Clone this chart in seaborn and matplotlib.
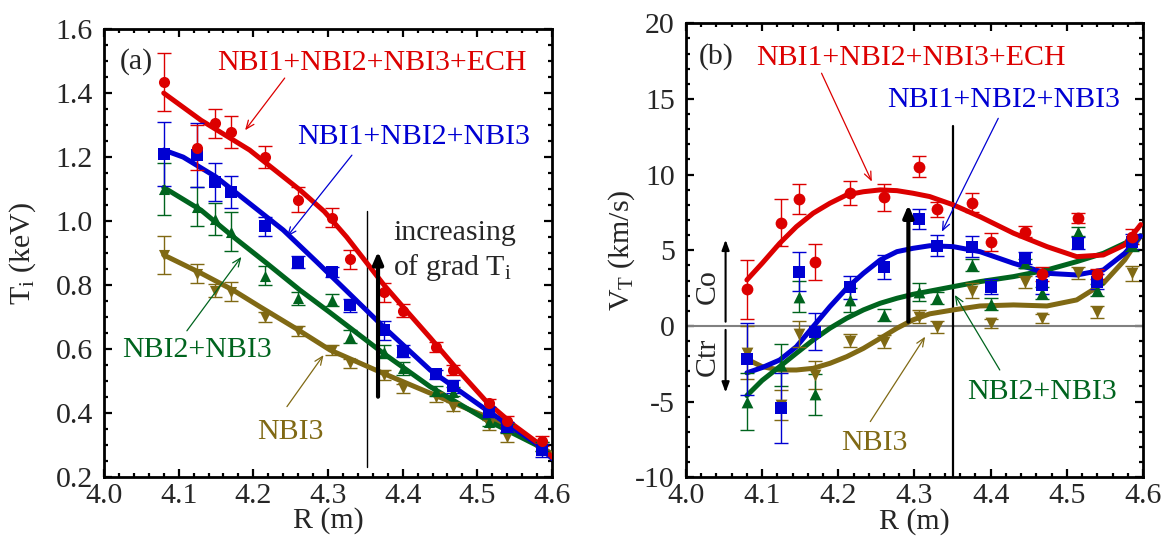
import numpy as np
import pandas as pd
import matplotlib
matplotlib.use('Agg')
import matplotlib.pyplot as plt
from matplotlib.ticker import MultipleLocator, FormatStrFormatter
import seaborn as sns

# measured radius points (same for every heating case)
R = [4.08, 4.125, 4.148, 4.17, 4.215, 4.26, 4.306, 4.33, 4.375, 4.40, 4.445, 4.468, 4.515, 4.54, 4.586]

# (a) ion temperature, keV
ti_ech = [1.434, 1.229, 1.305, 1.279, 1.201, 1.067, 1.010, 0.881, 0.777, 0.720, 0.607, 0.534, 0.430, 0.376, 0.312]
ti_ech_err = [0.09, 0.07, 0.045, 0.05, 0.035, 0.04, 0.03, 0.03, 0.03, 0.02, 0.015, 0.015, 0.015, 0.015, 0.015]
ti_123 = [1.209, 1.206, 1.123, 1.090, 0.984, 0.872, 0.840, 0.737, 0.659, 0.594, 0.521, 0.484, 0.404, 0.357, 0.284]
ti_123_err = [0.10, 0.10, 0.06, 0.05, 0.03, 0.02, 0.015, 0.02, 0.03, 0.02, 0.015, 0.02, 0.015, 0.015, 0.02]
ti_23 = [1.100, 1.045, 1.006, 0.967, 0.829, 0.758, 0.753, 0.638, 0.592, 0.540, 0.469, 0.467, 0.373, 0.352, 0.295]
ti_23_err = [0.08, 0.06, 0.05, 0.06, 0.03, 0.02, 0.02, 0.02, 0.02, 0.02, 0.015, 0.015, 0.015, 0.015, 0.015]
ti_3 = [0.894, 0.836, 0.782, 0.779, 0.701, 0.656, 0.597, 0.555, 0.519, 0.477, 0.451, 0.420, 0.362, 0.326, 0.295]
ti_3_err = [0.06, 0.03, 0.02, 0.03, 0.015, 0.015, 0.015, 0.015, 0.015, 0.015, 0.015, 0.015, 0.015, 0.015, 0.015]

# fitted Ti profiles
rfit_ti_ech = [4.08, 4.13, 4.195, 4.2625, 4.295, 4.325, 4.35, 4.375, 4.40, 4.437, 4.47, 4.5125, 4.55, 4.579, 4.60]
ti_ech_fit = [1.40, 1.315, 1.222, 1.097, 1.03, 0.95, 0.875, 0.80, 0.733, 0.635, 0.545, 0.435, 0.36, 0.31, 0.262]
rfit_ti_123 = [4.08, 4.106, 4.15, 4.195, 4.24, 4.285, 4.33, 4.374, 4.437, 4.5125, 4.579, 4.60]
ti_123_fit = [1.222, 1.20, 1.138, 1.055, 0.972, 0.872, 0.77, 0.67, 0.534, 0.409, 0.305, 0.258]
rfit_ti_23 = [4.08, 4.13, 4.173, 4.218, 4.2625, 4.3027, 4.374, 4.437, 4.5125, 4.579, 4.60]
ti_23_fit = [1.105, 1.034, 0.951, 0.868, 0.784, 0.714, 0.587, 0.482, 0.378, 0.300, 0.262]
rfit_ti_3 = [4.08, 4.13, 4.173, 4.209, 4.26, 4.3027, 4.374, 4.437, 4.5125, 4.579, 4.60]
ti_3_fit = [0.894, 0.837, 0.784, 0.732, 0.660, 0.597, 0.524, 0.462, 0.388, 0.305, 0.272]

# (b) toroidal rotation, km/s
vt_ech = [2.44, 6.83, 8.39, 4.21, 8.77, 8.50, 10.53, 7.71, 8.15, 5.57, 6.23, 3.44, 7.12, 3.44, 5.9]
vt_ech_err = [1.95, 1.57, 1.0, 1.2, 0.8, 0.9, 0.7, 0.5, 0.65, 0.6, 0.35, 0.45, 0.35, 0.35, 0.5]
vt_123 = [-2.2, -5.44, 3.59, -0.37, 2.56, 3.92, 7.07, 5.31, 5.24, 2.60, 4.47, 2.71, 5.50, 2.93, 5.57]
vt_123_err = [2.37, 2.3, 1.3, 1.2, 0.75, 0.8, 0.65, 0.72, 0.7, 0.5, 0.4, 0.6, 0.4, 0.5, 0.5]
vt_23 = [-5.0, -2.58, 1.94, -4.52, 1.72, 0.73, 2.27, 1.83, 4.03, 1.43, 4.14, 2.2, 6.23, 2.38, 5.35]
vt_23_err = [1.9, 1.4, 1.0, 1.35, 0.8, 0.4, 0.6, 0.4, 0.4, 0.4, 0.3, 0.4, 0.3, 0.4, 0.4]
vt_3 = [-1.76, -5.22, -0.53, -3.24, -0.97, -1.04, 0.62, -0.04, 2.33, 0.18, 2.93, 0.51, 3.48, 0.95, 3.48]
vt_3_err = [1.75, 1.0, 0.85, 0.9, 0.45, 0.45, 0.45, 0.4, 0.5, 0.3, 0.4, 0.3, 0.4, 0.4, 0.5]

# fitted VT profiles
rfit_vt = [4.08, 4.10, 4.123, 4.145, 4.167, 4.189, 4.211, 4.233, 4.255, 4.277, 4.298, 4.32,
           4.351, 4.386, 4.43, 4.474, 4.513, 4.548, 4.576, 4.597]
vt_ech_fit = [3.04, 4.14, 5.46, 6.56, 7.45, 8.11, 8.66, 8.87, 8.99, 8.94, 8.77, 8.55,
              8.0, 7.22, 6.13, 5.24, 4.58, 4.69, 5.35, 6.7]
vt_123_fit = [-3.1, -2.75, -2.25, -1.37, -0.04, 1.28, 2.49, 3.48, 4.36, 4.91, 5.13, 5.3,
              5.24, 4.91, 4.14, 3.48, 3.37, 3.70, 4.8, 5.95]
vt_23_fit = [-4.6, -3.6, -2.69, -1.80, -0.93, -0.15, 0.51, 1.06, 1.50, 1.83, 2.09, 2.3,
             2.60, 2.93, 3.26, 3.70, 4.25, 4.80, 5.46, 5.95]
vt_3_fit = [-2.2, -2.69, -2.91, -2.91, -2.80, -2.47, -2.03, -1.48, -0.82, -0.15, 0.40, 0.8,
            1.06, 1.32, 1.39, 1.32, 1.72, 2.82, 4.36, 5.95]

labels = ['NBI1+NBI2+NBI3+ECH', 'NBI1+NBI2+NBI3', 'NBI2+NBI3', 'NBI3']
colors = ['#dc0000', '#0000d2', '#00641e', '#806914']
markers = ['o', 's', '^', 'v']

sns.set_style('ticks')
plt.rcParams['font.family'] = ['Liberation Serif', 'DejaVu Serif']
plt.rcParams['mathtext.fontset'] = 'custom'
plt.rcParams['mathtext.rm'] = 'Liberation Serif'
plt.rcParams['mathtext.it'] = 'Liberation Serif:italic'
plt.rcParams['axes.unicode_minus'] = False
FS = 21.5

fig = plt.figure(figsize=(11.7, 5.39), dpi=100)
ax1 = fig.add_axes([0.0889, 0.115, 0.3829, 0.831])
ax2 = fig.add_axes([0.5863, 0.1145, 0.3906, 0.8423])


def draw_series(ax, xs, ys, errs, fx, fy, color, marker, ms):
    sns.lineplot(x=fx, y=fy, ax=ax, color=color, lw=3.6, sort=False, zorder=3)
    ax.errorbar(xs, ys, yerr=errs, fmt='none', ecolor=color, elinewidth=1.0,
                capsize=5, capthick=1.0, zorder=4)
    sns.scatterplot(x=xs, y=ys, ax=ax, color=color, marker=marker, s=ms,
                    edgecolor=color, linewidth=0, zorder=5)


ti_data = [(ti_ech, ti_ech_err, rfit_ti_ech, ti_ech_fit), (ti_123, ti_123_err, rfit_ti_123, ti_123_fit),
           (ti_23, ti_23_err, rfit_ti_23, ti_23_fit), (ti_3, ti_3_err, rfit_ti_3, ti_3_fit)]
for (y, e, fx, f), c, m in list(zip(ti_data, colors, markers))[::-1]:
    draw_series(ax1, R, y, e, fx, f, c, m, 64)

vt_data = [(vt_ech, vt_ech_err, vt_ech_fit), (vt_123, vt_123_err, vt_123_fit),
           (vt_23, vt_23_err, vt_23_fit), (vt_3, vt_3_err, vt_3_fit)]
ax2.axhline(0, color='#808080', lw=1.5, zorder=1)
for (y, e, f), c, m in list(zip(vt_data, colors, markers))[::-1]:
    draw_series(ax2, R, y, e, rfit_vt, f, c, m, 72)

# axes styling
for ax in (ax1, ax2):
    ax.set_xlim(4.0, 4.6)
    ax.xaxis.set_major_locator(MultipleLocator(0.1))
    ax.xaxis.set_minor_locator(MultipleLocator(0.02))
    ax.xaxis.set_major_formatter(FormatStrFormatter('%.1f'))
    ax.tick_params(which='both', direction='in', top=True, right=True, width=1.6,
                   labelsize=FS, color='black')
    ax.tick_params(which='major', length=6)
    ax.tick_params(which='minor', length=3)
    ax.tick_params(axis='x', which='major', pad=4)
    ax.tick_params(axis='y', which='major', pad=8)
    for sp in ax.spines.values():
        sp.set_linewidth(2)
        sp.set_color('black')
    ax.set_xlabel('R (m)', fontsize=FS)
    ax.xaxis.set_label_coords(0.5, -0.068)

ax1.set_ylim(0.2, 1.6)
ax1.yaxis.set_major_locator(MultipleLocator(0.2))
ax1.yaxis.set_minor_locator(MultipleLocator(0.05))
ax1.yaxis.set_major_formatter(FormatStrFormatter('%.1f'))
ax1.set_ylabel('T$_\\mathrm{i}$ (keV)', fontsize=FS)
ax1.yaxis.set_label_coords(-0.148, 0.5)

ax2.set_ylim(-10, 20)
ax2.yaxis.set_major_locator(MultipleLocator(5))
ax2.yaxis.set_minor_locator(MultipleLocator(1))
ax2.set_ylabel('V$_\\mathrm{T}$ (km/s)', fontsize=FS)
ax2.yaxis.set_label_coords(-0.108, 0.5)

arrow_thin = dict(arrowstyle='->,head_length=0.6,head_width=0.25', lw=0.9, shrinkA=0, shrinkB=0)
arrow_bold = dict(arrowstyle='-|>,head_length=0.7,head_width=0.3', color='black', lw=3,
                  shrinkA=0, shrinkB=0)
arrow_mid = dict(arrowstyle='-|>,head_length=0.6,head_width=0.22', color='black', lw=1.5,
                 shrinkA=0, shrinkB=0)

# (a) annotations
ax1.text(4.044, 1.50, '(a)', fontsize=FS, ha='center', va='center')
ax1.text(4.359, 1.494, labels[0], color=colors[0], fontsize=FS, ha='center', va='center')
ax1.text(4.4145, 1.262, labels[1], color=colors[1], fontsize=FS, ha='center', va='center')
ax1.text(4.125, 0.597, labels[2], color=colors[2], fontsize=FS, ha='center', va='center')
ax1.text(4.25, 0.342, labels[3], color=colors[3], fontsize=FS, ha='center', va='center')
arrows_a = [((4.189, 1.284), (4.242, 1.447)), ((4.245, 0.951), (4.332, 1.206)),
            ((4.184, 0.888), (4.111, 0.657)), ((4.294, 0.581), (4.245, 0.42))]
for (head, tail), c in zip(arrows_a, colors):
    ax1.annotate('', xy=head, xytext=tail, arrowprops=dict(arrow_thin, color=c), zorder=6)
ax1.plot([4.352, 4.352], [0.232, 1.03], color='black', lw=1.0, zorder=2)
ax1.annotate('', xy=(4.367, 0.905), xytext=(4.367, 0.451), arrowprops=arrow_bold, zorder=6)
ax1.text(4.387, 0.962, 'increasing', fontsize=FS, ha='left', va='center')
ax1.text(4.387, 0.856, 'of grad T$_\\mathrm{i}$', fontsize=FS, ha='left', va='center')

# (b) annotations
ax2.text(4.040, 17.8, '(b)', fontsize=FS, ha='center', va='center')
ax2.text(4.2954, 17.69, labels[0], color=colors[0], fontsize=FS, ha='center', va='center')
ax2.text(4.4166, 14.93, labels[1], color=colors[1], fontsize=FS, ha='center', va='center')
ax2.text(4.468, -4.34, labels[2], color=colors[2], fontsize=FS, ha='center', va='center')
ax2.text(4.247, -7.75, labels[3], color=colors[3], fontsize=FS, ha='center', va='center')
arrows_b = [((4.244, 9.54), (4.178, 16.7)), ((4.336, 6.23), (4.410, 13.72)),
            ((4.353, 2.05), (4.412, -2.91)), ((4.314, -0.71), (4.242, -6.32))]
for (head, tail), c in zip(arrows_b, colors):
    ax2.annotate('', xy=head, xytext=tail, arrowprops=dict(arrow_thin, color=c), zorder=6)
ax2.plot([4.35, 4.35], [-10, 13.2], color='black', lw=1.6, zorder=2)
ax2.annotate('', xy=(4.292, 8.0), xytext=(4.292, 0.28), arrowprops=arrow_bold, zorder=6)
ax2.annotate('', xy=(4.052, 5.7), xytext=(4.052, 0.28), arrowprops=arrow_mid, zorder=6)
ax2.annotate('', xy=(4.052, -4.4), xytext=(4.052, -0.26), arrowprops=arrow_mid, zorder=6)
ax2.text(4.029, 2.6, 'Co', fontsize=FS, rotation=90, ha='center', va='center')
ax2.text(4.029, -2.03, 'Ctr', fontsize=FS, rotation=90, ha='center', va='center')

fig.savefig('out.png', dpi=100)
